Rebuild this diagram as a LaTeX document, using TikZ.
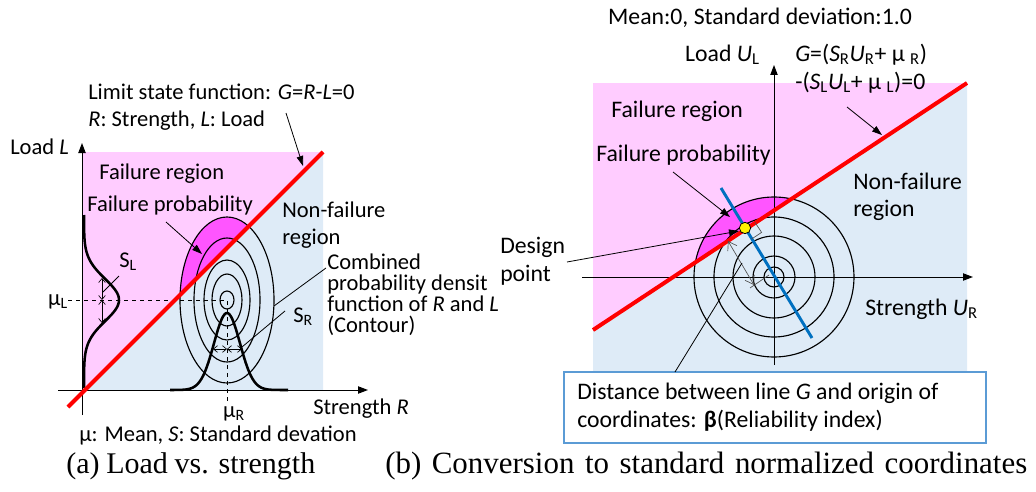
\documentclass[tikz,border=0pt]{standalone}
\usepackage{fontspec}
\setmainfont{Carlito}
\newfontfamily\capfont{Liberation Serif}
\usetikzlibrary{arrows.meta}
\definecolor{failpink}{RGB}{255,204,255}
\definecolor{safeblue}{RGB}{222,235,247}
\definecolor{probmag}{RGB}{255,85,255}
\definecolor{limitred}{RGB}{255,0,0}
\definecolor{betablue}{RGB}{0,112,192}
\definecolor{boxedge}{RGB}{91,155,213}
\definecolor{dimgrey}{RGB}{80,80,80}
\begin{document}
\begin{tikzpicture}[x=0.75pt,y=-0.75pt,
  lbl/.style={inner sep=0pt, anchor=west, text height=0.62em, text depth=0pt,
    font=\fontsize{16.9}{20}\selectfont},
  clbl/.style={lbl, anchor=center},
  rlbl/.style={lbl, font=\fontsize{17.8}{21}\selectfont},
  crlbl/.style={rlbl, anchor=center},
  captext/.style={inner sep=0pt, anchor=west, text height=0.62em, text depth=0pt,
    font=\capfont\fontsize{22.5}{27}\selectfont},
  axis/.style={line width=0.75pt, -{Triangle[length=7.5pt,width=5.5pt]}},
  contour/.style={line width=0.85pt},
  density/.style={line width=1.9pt},
  limit/.style={line width=3pt, limitred},
  leader/.style={line width=0.6pt},
  pointer/.style={line width=0.6pt, -{Triangle[length=7.5pt,width=5pt]}},
  spread/.style={line width=0.5pt, {Straight Barb[length=3pt,width=5pt]}-{Straight Barb[length=3pt,width=5pt]}},
  dim/.style={line width=0.5pt, dimgrey},
  callout/.style={draw=boxedge, line width=1.1pt, fill=white, inner sep=0pt,
    minimum width=316.5pt, minimum height=53.25pt},
]
\useasboundingbox (0,0) rectangle (1036,492);

% ---------------- (a) load vs. strength ----------------
\fill[failpink] (82,152) rectangle (323,390);
\fill[safeblue] (85,390) -- (323,152) -- (323,390) -- cycle;
\begin{scope}
  \clip (68,407) -- (323,152) -- (40,152) -- (40,407) -- cycle;
  \fill[probmag] (227,300) ellipse [x radius=47, y radius=83];
\end{scope}
\foreach \a/\b in {7/9,15/26,23/40,33/62,47/83}
  \draw[contour] (227,300) ellipse [x radius=\a, y radius=\b];

\coordinate (aO) at (82,390);
\draw[axis] (82,415) -- (82,143);
\draw[axis] (58,390) -- (368,390);
\draw[dashed, line width=0.6pt] (68,300) -- (227,300) -- (227,403);

% density of strength R and of load L
\draw[density] plot[domain=170:288, samples=90] (\x, {390-77*exp(-((\x-227)^2)/338)});
\draw[density] plot[domain=215:388, samples=90] ({84+35*exp(-((\x-300)^2)/882)}, \x);

% limit state line G = 0
\draw[limit] (68,407) -- (323,152);

% spreads S_L and S_R
\draw[spread] (102,278) -- (102,300);
\draw[spread] (102,300) -- (102,323);
\draw[spread] (213,349) -- (227,349);
\draw[spread] (227,349) -- (242,349);

% labels
\node[lbl] (lsf) at (88,95) {Limit state function: \textit{G}=\textit{R}-\textit{L}=0};
\node[lbl] (rl) at (88,122) {\textit{R}: Strength, \textit{L}: Load};
\node[lbl] (loadL) at (10,150) {Load \textit{L}};
\node[lbl] (fra) at (99,175) {Failure region};
\node[lbl] (fpa) at (87,207) {Failure probability};
\node[lbl] (nfa1) at (282,213) {Non-failure};
\node[lbl] (nfa2) at (282,240) {region};
\node[lbl] (sl) at (119,263) {S\textsubscript{L}};
\node[clbl] (mul) at (58,301) {μ\textsubscript{L}};
\node[lbl] (cb1) at (327,265) {Combined};
\node[lbl] (cb2) at (327,286) {probability densit};
\node[lbl] (cb3) at (327,307) {function of \textit{R} and \textit{L}};
\node[lbl] (cb4) at (327,328) {(Contour)};
\node[lbl] (sr) at (293,318) {S\textsubscript{R}};
\node[clbl] (mur) at (234,413) {μ\textsubscript{R}};
\node[lbl] (strR) at (313,410) {Strength \textit{R}};
\node[clbl] (legend) at (218,437) {μ: Mean, \textit{S}: Standard devation};
\node[captext] (capa) at (66,469) {\makebox[186.75pt][s]{(a) Load vs. strength}};

% leaders
\coordinate (lsA) at (286,113); \coordinate (lsB) at (303,166);
\draw[pointer] (lsA) -- (lsB);
\coordinate (fpA) at (166,222); \coordinate (fpB) at (202,254);
\draw[pointer] (fpA) -- (fpB);
\coordinate (cbA) at (326,268); \coordinate (cbB) at (274,306);
\draw[leader] (cbA) -- (cbB);
\coordinate (srA) at (285,311); \coordinate (srB) at (242,347);
\draw[leader] (srA) -- (srB);
\coordinate (slA) at (119,276); \coordinate (slB) at (103,292);
\draw[leader] (slA) -- (slB);

% ---------------- (b) standard normalized coordinates ----------------
\fill[failpink] (593,83) rectangle (967,372);
\fill[safeblue] (593,330) -- (967,83) -- (967,372) -- (593,372) -- cycle;
\begin{scope}
  \clip (593,330) -- (967,83) -- (593,83) -- cycle;
  \fill[probmag] (774,277) circle [radius=80];
\end{scope}
\foreach \r in {10,21,41,60,80}
  \draw[contour] (774,277) circle [radius=\r];

\coordinate (bO) at (774,277);
\draw[axis] (774,365) -- (774,65);
\draw[axis] (582,277) -- (973,277);

\draw[limit] (593,330) -- (967,83);
\draw[line width=2.2pt, betablue] (721,188) -- (812,338);

% right-angle mark and reliability index beta
\draw[dim] (755,222.4) -- (761.6,232.4) -- (751.6,239);
\draw[dim, {Straight Barb[length=6pt,width=8pt]}-{Straight Barb[length=6pt,width=8pt]}] (728,241) -- (754,285);
\draw[dim] (750,288) -- (769,275);

\node[draw, line width=0.6pt, fill=yellow, circle, inner sep=0pt, minimum size=8.5pt] (dp) at (745,228) {};

% labels
\node[crlbl] (meansd) at (760,20) {Mean:0, Standard deviation:1.0};
\node[rlbl, anchor=east] (loadU) at (760,57) {Load \textit{U}\textsubscript{L}};
\node[rlbl] (g1) at (795,57) {\textit{G}=(\textit{S}\textsubscript{R}\textit{U}\textsubscript{R}+ μ \textsubscript{R})};
\node[rlbl] (g2) at (795,85) {-(\textit{S}\textsubscript{L}\textit{U}\textsubscript{L}+ μ \textsubscript{L})=0};
\node[rlbl] (frb) at (611,113) {Failure region};
\node[rlbl] (fpb) at (596,157) {Failure probability};
\node[rlbl] (nfb1) at (853,185) {Non-failure};
\node[rlbl] (nfb2) at (853,212) {region};
\node[rlbl] (des1) at (500,249) {Design};
\node[rlbl] (des2) at (500,277) {point};
\node[rlbl] (strU) at (865,311) {Strength \textit{U}\textsubscript{R}};
\node[callout] (beta) at (775,407.5) {};
\node[rlbl] (bt1) at (577,395) {Distance between line \textit{G} and origin of};
\node[rlbl] (bt2) at (577,423) {coordinates: \textbf{β}(Reliability index)};
\node[captext, font=\capfont\fontsize{23.2}{27}\selectfont] (capb) at (385,469)
  {\makebox[481.5pt][s]{(b) Conversion to standard normalized coordinates}};

% leaders
\coordinate (gA) at (847,107); \coordinate (gB) at (882,135);
\draw[pointer] (gA) -- (gB);
\coordinate (fbA) at (673,172); \coordinate (fbB) at (730,217);
\draw[pointer] (fbA) -- (fbB);
\coordinate (dA) at (567,262); \coordinate (dB) at (739,231);
\draw[pointer] (dA) -- (dB);
\coordinate (bA) at (675,372); \coordinate (bB) at (742,263);
\draw[leader] (bA) -- (bB);
\end{tikzpicture}
\end{document}
